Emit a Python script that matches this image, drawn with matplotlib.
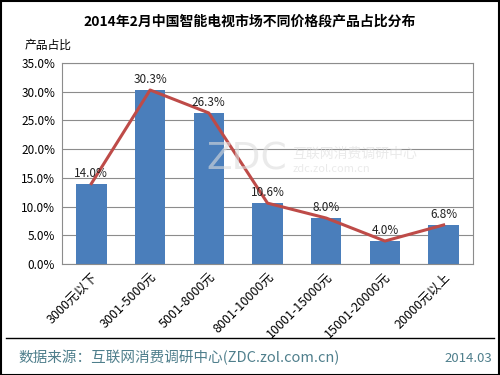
import matplotlib
matplotlib.use('Agg')
import matplotlib.pyplot as plt
from matplotlib.patches import Rectangle

plt.rcParams['font.family'] = ['Noto Sans CJK SC', 'DejaVu Sans']

CATEGORIES = ['3000元以下', '3001-5000元', '5001-8000元', '8001-10000元',
              '10001-15000元', '15001-20000元', '20000元以上']
SHARES = [14.0, 30.3, 26.3, 10.6, 8.0, 4.0, 6.8]
TITLE = '2014年2月中国智能电视市场不同价格段产品占比分布'
SOURCE = '数据来源：互联网消费调研中心(ZDC.zol.com.cn)'
DATE = '2014.03'

BAR_COLOR = '#4a7ebb'
LINE_COLOR = '#be4b48'
FOOT_COLOR = '#4f7f8c'


def chart():
    fig = plt.figure(figsize=(5, 3.75), dpi=100)
    ax = fig.add_axes([62 / 500, 1 - 264 / 375, 411 / 500, 201 / 375])

    x = range(len(CATEGORIES))
    ax.bar(x, SHARES, width=0.52, color=BAR_COLOR, zorder=2)
    ax.plot(x, SHARES, color=LINE_COLOR, lw=2.2, zorder=3)
    for i, v in zip(x, SHARES):
        ax.text(i, v + 0.7, f'{v:.1f}%', ha='center', va='bottom',
                fontsize=8.5, color='#222222', zorder=4)

    ax.set_xlim(-0.5, len(CATEGORIES) - 0.5)
    ax.set_ylim(0, 35)
    ax.set_yticks(range(0, 36, 5))
    ax.set_yticklabels([f'{t:.1f}%' for t in range(0, 36, 5)], fontsize=8.5)
    ax.set_xticks(list(x))
    ax.set_xticklabels(CATEGORIES, rotation=45, ha='right',
                       rotation_mode='anchor', fontsize=9)
    ax.tick_params(axis='y', length=0, pad=5)
    ax.tick_params(axis='x', length=0, pad=5)
    ax.grid(axis='y', color='#8c8c8c', lw=0.8, zorder=0)
    for s in ax.spines.values():
        s.set_color('#8c8c8c')
        s.set_linewidth(0.8)

    # watermark
    fig.text(0.575, 0.575, 'ZDC', fontsize=27, color='#dddddd',
             ha='right', va='center', family='DejaVu Sans', alpha=0.6)
    fig.text(0.585, 0.59, '互联网消费调研中心', fontsize=10, color='#dddddd',
             ha='left', va='center', alpha=0.6)
    fig.text(0.585, 0.55, 'zdc.zol.com.cn', fontsize=8, color='#dddddd',
             ha='left', va='center', alpha=0.6)

    fig.text(0.5, 1 - 22 / 375, TITLE, ha='center', va='center',
             fontsize=10, fontweight='bold')
    fig.text(25 / 500, 1 - 45 / 375, '产品占比', ha='left', va='center',
             fontsize=8.5)

    fig.add_artist(plt.Line2D([6 / 500, 494 / 500], [1 - 338 / 375, 1 - 338 / 375],
                              color='black', lw=1))
    fig.text(18 / 500, 1 - 358 / 375, SOURCE, ha='left', va='center',
             fontsize=10.5, color=FOOT_COLOR)
    fig.text(492 / 500, 1 - 358 / 375, DATE, ha='right', va='center',
             fontsize=9.5, color=FOOT_COLOR)

    fig.add_artist(Rectangle((0.001, 0.001), 0.997, 0.997, fill=False,
                             edgecolor='black', lw=1.5, transform=fig.transFigure))

    fig.savefig('out.png', dpi=100)


if __name__ == '__main__':
    chart()
